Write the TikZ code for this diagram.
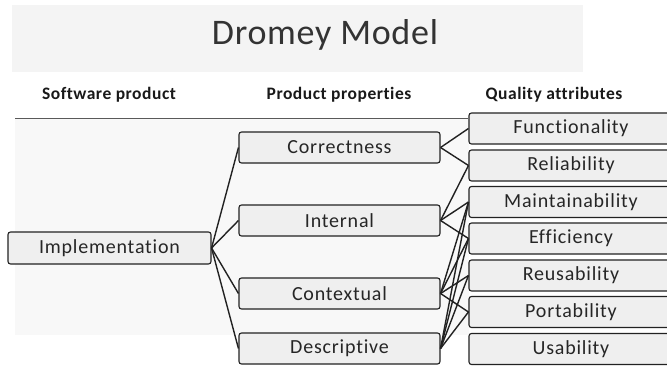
\documentclass[tikz,border=0pt]{standalone}
\usepackage{fontspec}
\setmainfont{Carlito}
\newfontfamily\boxfont[LetterSpace=4,Ligatures=NoCommon]{Carlito}
\newfontfamily\headfont[LetterSpace=3,Ligatures=NoCommon]{Carlito}
\newfontfamily\titlefont[LetterSpace=2,Ligatures=NoCommon]{Carlito}
\definecolor{bandgray}{HTML}{F4F4F4}
\definecolor{bodygray}{HTML}{F8F8F8}
\definecolor{boxgray}{HTML}{EFEFEF}
\definecolor{inkgray}{HTML}{222222}
\begin{document}
\begin{tikzpicture}[x=1pt,y=-1pt,
  box/.style={draw=inkgray, line width=1.1pt, rounded corners=2.5pt, fill=boxgray,
    minimum height=31pt, inner sep=0pt, text=black!85,
    font=\boxfont\fontsize{20}{24}\selectfont},
  midbox/.style={box, minimum width=201pt},
  attrbox/.style={box, minimum width=204pt},
  link/.style={draw=inkgray, line width=1.4pt},
  head/.style={text=black!90, font=\headfont\bfseries\fontsize{17.5}{21}\selectfont},
  rule/.style={draw=black!65, line width=0.9pt}
]
\useasboundingbox (0,0) rectangle (667,367);
\clip (0,0) rectangle (667,367);
\fill[white] (0,0) rectangle (667,367);

% title band and faint body panel
\fill[bandgray] (12,5) rectangle (583,72);
\fill[bodygray] (15,119) rectangle (469,335);

\node[text=black!80, font=\titlefont\fontsize{36}{40}\selectfont] (title) at (325,35) {Dromey Model};

% column headings
\node[head] (hsw) at (109,95) {Software product};
\node[head] (hpp) at (339,95) {Product properties};
\node[head] (hqa) at (554,95) {Quality attributes};

% software product
\node[box, minimum width=203pt, minimum height=32pt] (impl) at (109.5,248) {Implementation};

% product properties
\node[midbox] (corr) at (339.5,147.5) {Correctness};
\node[midbox] (int)  at (339.5,220.5) {Internal};
\node[midbox] (ctx)  at (339.5,293.5) {Contextual};
\node[midbox] (desc) at (339.5,348.5) {Descriptive};

% quality attributes
\node[attrbox] (func)  at (571,128.5) {Functionality};
\node[attrbox] (rel)   at (571,165.5) {Reliability};
\node[attrbox] (maint) at (571,202)   {Maintainability};
\node[attrbox] (eff)   at (571,238.5) {Efficiency};
\node[attrbox] (reus)  at (571,275.5) {Reusability};
\node[attrbox] (port)  at (571,312)   {Portability};
\node[attrbox] (usab)  at (571,349)   {Usability};

% rule under the headings
\coordinate (ruleL) at (15,118);
\draw[rule] (ruleL) -- (ruleL -| func.west);

% implementation -> properties
\foreach \p in {corr,int,ctx,desc}
  \draw[link] (impl.east) -- (\p.west);

% properties -> attributes
\foreach \a in {func,rel}
  \draw[link] (corr.east) -- (\a.west);
\foreach \a in {rel,maint,eff}
  \draw[link] (int.east) -- (\a.west);
\foreach \a in {maint,eff,reus,port}
  \draw[link] (ctx.east) -- (\a.west);
\foreach \a in {maint,eff,reus,port}
  \draw[link] (desc.east) -- (\a.west);
\end{tikzpicture}
\end{document}
